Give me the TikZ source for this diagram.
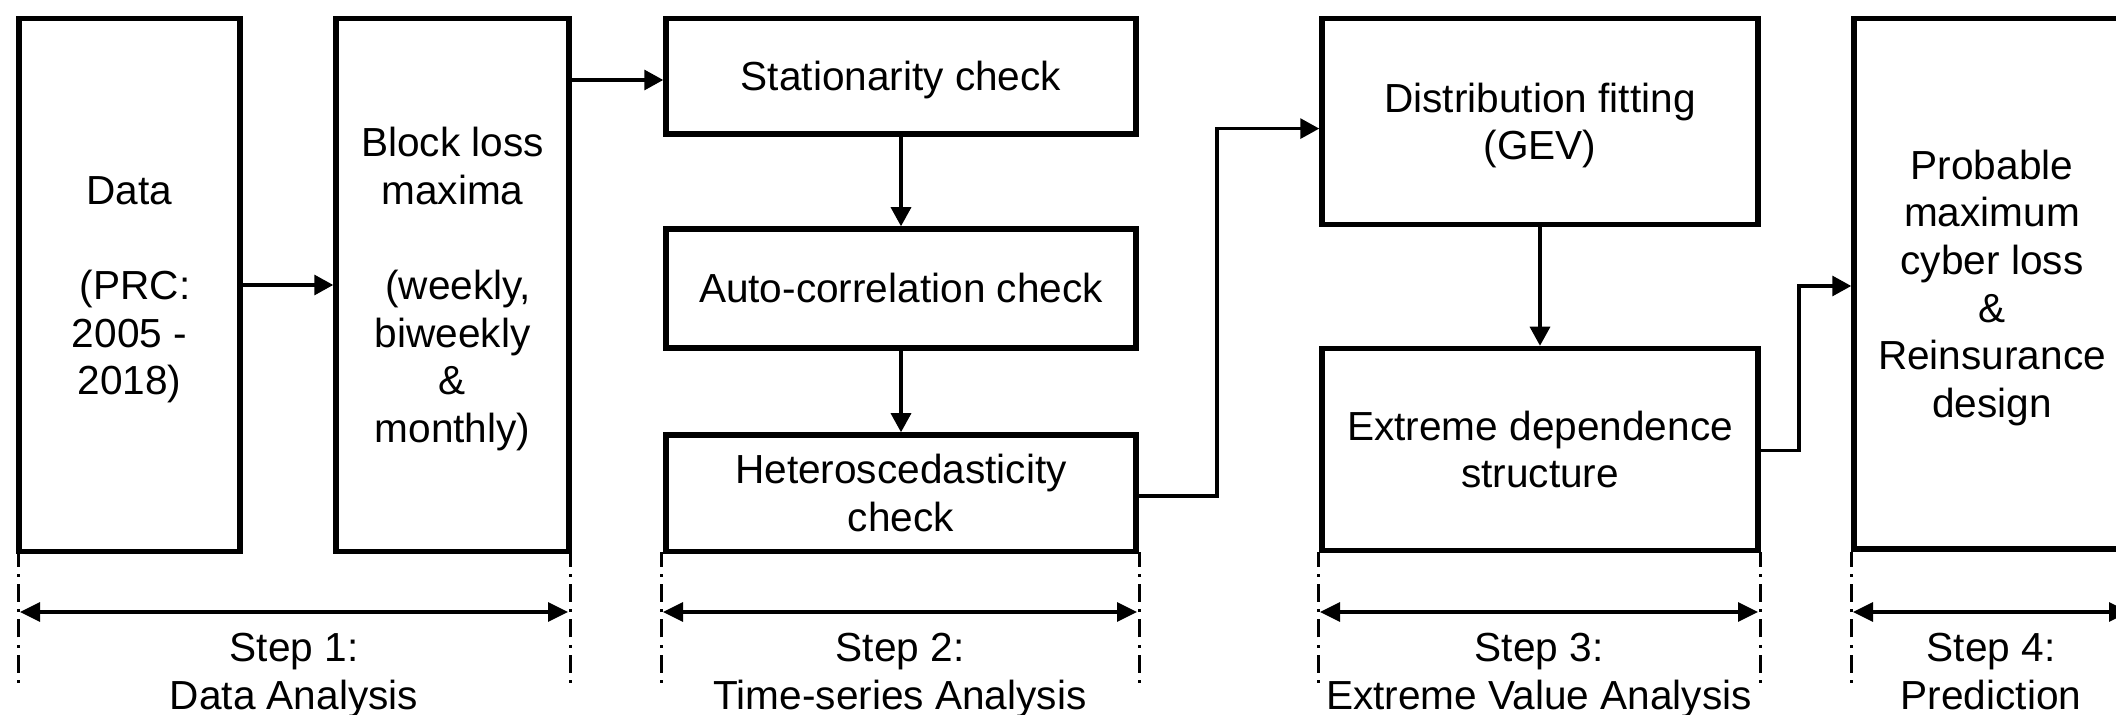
\documentclass[tikz,border=0pt]{standalone}
\usepackage{fontspec}
\setmainfont{Liberation Sans}
\usetikzlibrary{arrows.meta}
% struts that keep every text block centred on its capital letters
\newcommand\tzTop{\rule{0pt}{21.6pt}}
\newcommand\tzBot{\rule[-7.1pt]{0pt}{7.1pt}}
\begin{document}
\begin{tikzpicture}[x=0.5pt,y=-0.5pt,
  txt/.style={align=center, inner sep=0pt, font=\fontsize{20.3}{23.8}\selectfont},
  box/.style={txt, draw, line width=2.75pt},
  link/.style={line width=1.6pt, -{Triangle[length=9.5pt,width=10pt]}},
  guide/.style={line width=1.5pt, dash pattern=on 1.5pt off 3.6pt on 9pt off 3.6pt},
  span/.style={line width=1.7pt, {Triangle[length=10pt,width=9.5pt]}-{Triangle[length=10pt,width=9.5pt]}}]
\clip (0,0) rectangle (2116,715);
\fill[white] (0,0) rectangle (2116,715);

% step 1
\node[box, minimum width=110.5pt, minimum height=266.5pt] (data) at (129.5,285)
  {\tzTop Data\\ \mbox{}\\ \ (PRC:\\2005 -\\2018)\tzBot};
\node[box, minimum width=116.5pt, minimum height=266.5pt] (block) at (452.5,285)
  {\tzTop Block loss\\maxima\\ \mbox{}\\ \ (weekly,\\biweekly\\\&\\monthly)\tzBot};

% step 2
\node[box, minimum width=235pt, minimum height=57.75pt] (stat) at (901,76.25)
  {\tzTop Stationarity check\tzBot};
\node[box, minimum width=235pt, minimum height=59.5pt] (auto) at (901,288.5)
  {\tzTop Auto-correlation check\tzBot};
\node[box, minimum width=235pt, minimum height=58.25pt] (het) at (901,493.25)
  {\tzTop Heteroscedasticity\\check\tzBot};

% step 3
\node[box, minimum width=218pt, minimum height=103pt] (dist) at (1540,121.5)
  {\tzTop Distribution fitting\\(GEV)\tzBot};
\node[box, minimum width=218pt, minimum height=101pt] (ext) at (1540,449.5)
  {\tzTop Extreme dependence\\structure\tzBot};

% step 4
\node[box, minimum width=138pt, minimum height=265.25pt] (prob) at (1992,283.75)
  {\tzTop Probable\\maximum\\cyber loss\\\&\\Reinsurance\\design\tzBot};

% connectors
\coordinate (bs) at (600,80);
\coordinate (hd1) at (1217,496);
\coordinate (hd2) at (1217,128.6);
\coordinate (ep1) at (1799,450.5);
\coordinate (ep2) at (1799,286);
\draw[link] (data) -- (block);
\draw[link] (block.east |- bs) -- (stat.west |- bs);
\draw[link] (stat) -- (auto);
\draw[link] (auto) -- (het);
\draw[link] (het.east |- hd1) -- (hd1) -- (hd2) -- (dist.west |- hd2);
\draw[link] (dist) -- (ext);
\draw[link] (ext.east |- ep1) -- (ep1) -- (ep2) -- (prob.west |- ep2);

% step extents
\foreach \n/\l/\r in {a/18/570, b/661/1139, c/1318/1760, d/1851/2131}{
  \coordinate (\n lt) at (\l,552);
  \coordinate (\n lb) at (\l,683);
  \coordinate (\n rt) at (\r,552);
  \coordinate (\n rb) at (\r,683);
  \coordinate (\n la) at (\l+2,612);
  \coordinate (\n ra) at (\r-2,612);
  \draw[guide] (\n lb) -- (\n lt);
  \draw[guide] (\n rb) -- (\n rt);
  \draw[span] (\n la) -- (\n ra);
}

\node[txt] (s1) at (294,671) {\tzTop Step 1:\\Data Analysis\tzBot};
\node[txt] (s2) at (900,671) {\tzTop Step 2:\\Time-series Analysis\tzBot};
\node[txt] (s3) at (1539,671) {\tzTop Step 3:\\Extreme Value Analysis\tzBot};
\node[txt] (s4) at (1991,671) {\tzTop Step 4:\\Prediction\tzBot};
\end{tikzpicture}
\end{document}
